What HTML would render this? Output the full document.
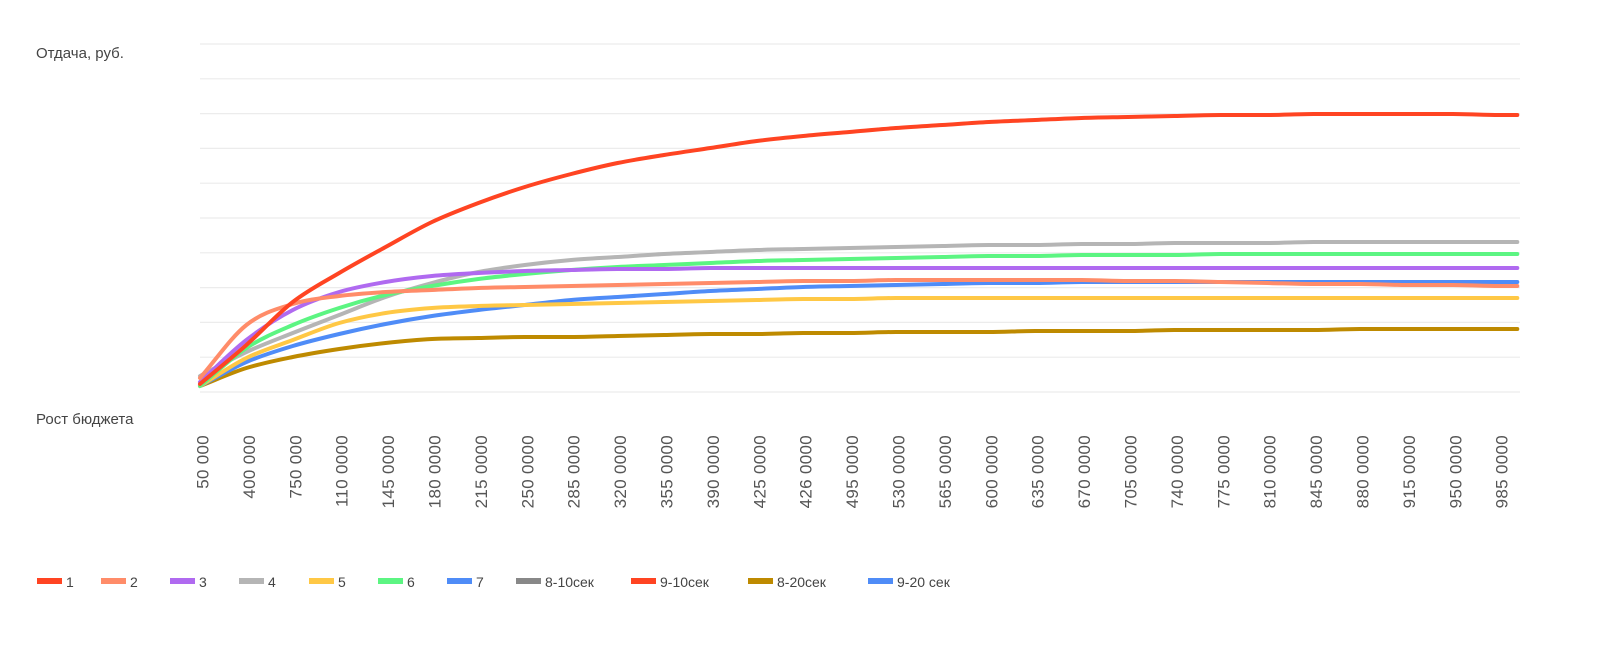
<!DOCTYPE html>
<html><head><meta charset="utf-8"><style>
html,body{margin:0;padding:0;background:#fff;width:1600px;height:659px;overflow:hidden;font-family:"Liberation Sans",sans-serif;}
</style></head><body>
<svg id="chart" width="1600" height="659" xmlns="http://www.w3.org/2000/svg">
<g id="grid"></g>
<text x="36" y="58" font-size="15" fill="#444">Отдача, руб.</text>
<text x="36" y="424" font-size="15" fill="#444">Рост бюджета</text>
<g id="xlabels"></g>
<g id="lines"></g>
<g id="legend"></g>
</svg>
<script>
const categories = ["50 000","400 000","750 000","110 0000","145 0000","180 0000","215 0000","250 0000","285 0000","320 0000","355 0000","390 0000","425 0000","426 0000","495 0000","530 0000","565 0000","600 0000","635 0000","670 0000","705 0000","740 0000","775 0000","810 0000","845 0000","880 0000","915 0000","950 0000","985 0000"];
const xPositions = [0,1,2,3,4,5,6,7,8,9,10,11,12,13,14,15,16,17,18,19,20,21,22,23,24,25,26,27,28,28.39];
const s1 = [8,47,90,119,145,170,189,205,218,229,237,244,251,256,260,264,267,270,272,274,275,276,277,277,278,278,278,278,277,277];
const s2 = [14,67,88,96,100,102,104,105,106,107,108,109,110,111,111,112,112,112,112,112,111,111,110,109,108,108,107,107,106,106];
const s3 = [10,52,82,100,110,116,119,121,122,123,123,124,124,124,124,124,124,124,124,124,124,124,124,124,124,124,124,124,124,124];
const s4 = [16,40,59,77,95,109,120,127,132,135,138,140,142,143,144,145,146,147,147,148,148,149,149,149,150,150,150,150,150,150];
const s5 = [6,34,52,69,79,84,86,87,88,89,90,91,92,93,93,94,94,94,94,94,94,94,94,94,94,94,94,94,94,94];
const s6 = [6,44,67,84,97,106,113,118,122,125,127,129,131,132,133,134,135,136,136,137,137,137,138,138,138,138,138,138,138,138];
const s7 = [6,30,46,58,68,76,82,87,92,95,98,101,103,105,106,107,108,109,109,110,110,110,110,110,110,110,110,110,110,110];
const s820 = [6,24,35,43,49,53,54,55,55,56,57,58,58,59,59,60,60,60,61,61,61,62,62,62,62,63,63,63,63,63];
const legendLabels = ["1","2","3","4","5","6","7","8-10сек","9-10сек","8-20сек","9-20 сек"];
const legendColors = ["#ff4422","#ff8c69","#b06af0","#b5b5b5","#ffc845","#5cf582","#4f8cf7","#888888","#ff4422","#be8a00","#4f8cf7"];
const yMax = 348;

const NS="http://www.w3.org/2000/svg";
const X0=200, DX=46.4, Y0=392, Y1=44;
function xs(i){return X0+i*DX;}
function ys(v){return Y0-(v/yMax)*(Y0-Y1);}
function mk(t,a){const e=document.createElementNS(NS,t);for(const k in a)e.setAttribute(k,a[k]);return e;}

const grid=document.getElementById('grid');
for(let k=0;k<=10;k++){
  const y=ys(k*yMax/10);
  const l=mk('line',{x1:200,x2:1520,y1:y,y2:y,stroke:'#ececec','stroke-width':1.2});
  
  
  grid.appendChild(l);
}
const xl=document.getElementById('xlabels');
categories.forEach((c,i)=>{
  const x=xs(i)+3, y=435;
  const t=mk('text',{x:x,y:y,transform:`rotate(-90 ${x} ${y})`,'text-anchor':'end','dominant-baseline':'central','font-size':17,fill:'#555','letter-spacing':'0.3'});
  t.textContent=c;
  
  
  xl.appendChild(t);
});
function pathFor(vals){
  const p=vals.map((v,i)=>[xs(xPositions[i]),ys(v)]);
  const n=p.length, d=[], m=[];
  for(let i=0;i<n-1;i++) d.push((p[i+1][1]-p[i][1])/(p[i+1][0]-p[i][0]));
  m[0]=d[0]; m[n-1]=d[n-2];
  for(let i=1;i<n-1;i++){
    if(d[i-1]*d[i]<=0) m[i]=0;
    else { m[i]=(d[i-1]+d[i])/2; const a=m[i]/d[i-1], b=m[i]/d[i]; const s=a*a+b*b; if(s>9){const t=3/Math.sqrt(s); m[i]=t*a*d[i-1];} }
  }
  let s=`M${p[0][0]},${p[0][1]}`;
  for(let i=0;i<n-1;i++){
    const h=(p[i+1][0]-p[i][0])/3;
    s+=` C${p[i][0]+h},${p[i][1]+m[i]*h} ${p[i+1][0]-h},${p[i+1][1]-m[i+1]*h} ${p[i+1][0]},${p[i+1][1]}`;
  }
  return s;
}
const series=[[s820,"#be8a00","line-8-20sec"],[s7,"#4f8cf7","line-7"],[s5,"#ffc845","line-5"],[s4,"#b5b5b5","line-4"],[s6,"#5cf582","line-6"],[s3,"#b06af0","line-3"],[s2,"#ff8c69","line-2"],[s1,"#ff4422","line-1"]];
const lg=document.getElementById('lines');
series.forEach(s=>{
  const p=mk('path',{d:pathFor(s[0]),fill:'none',stroke:s[1],'stroke-width':4,'stroke-linecap':'round'});
  
  
  lg.appendChild(p);
});
const legendX=[37,101,170,239,309,378,447,516,631,748,868];
const leg=document.getElementById('legend');
legendLabels.forEach((lab,i)=>{
  const g=mk('g',{});
  
  
  g.appendChild(mk('rect',{x:legendX[i],y:578,width:25,height:6,fill:legendColors[i]}));
  const t=mk('text',{x:legendX[i]+29,y:587,'font-size':14,fill:'#444'});
  t.textContent=lab;
  g.appendChild(t);
  leg.appendChild(g);
});
</script>
</body></html>
